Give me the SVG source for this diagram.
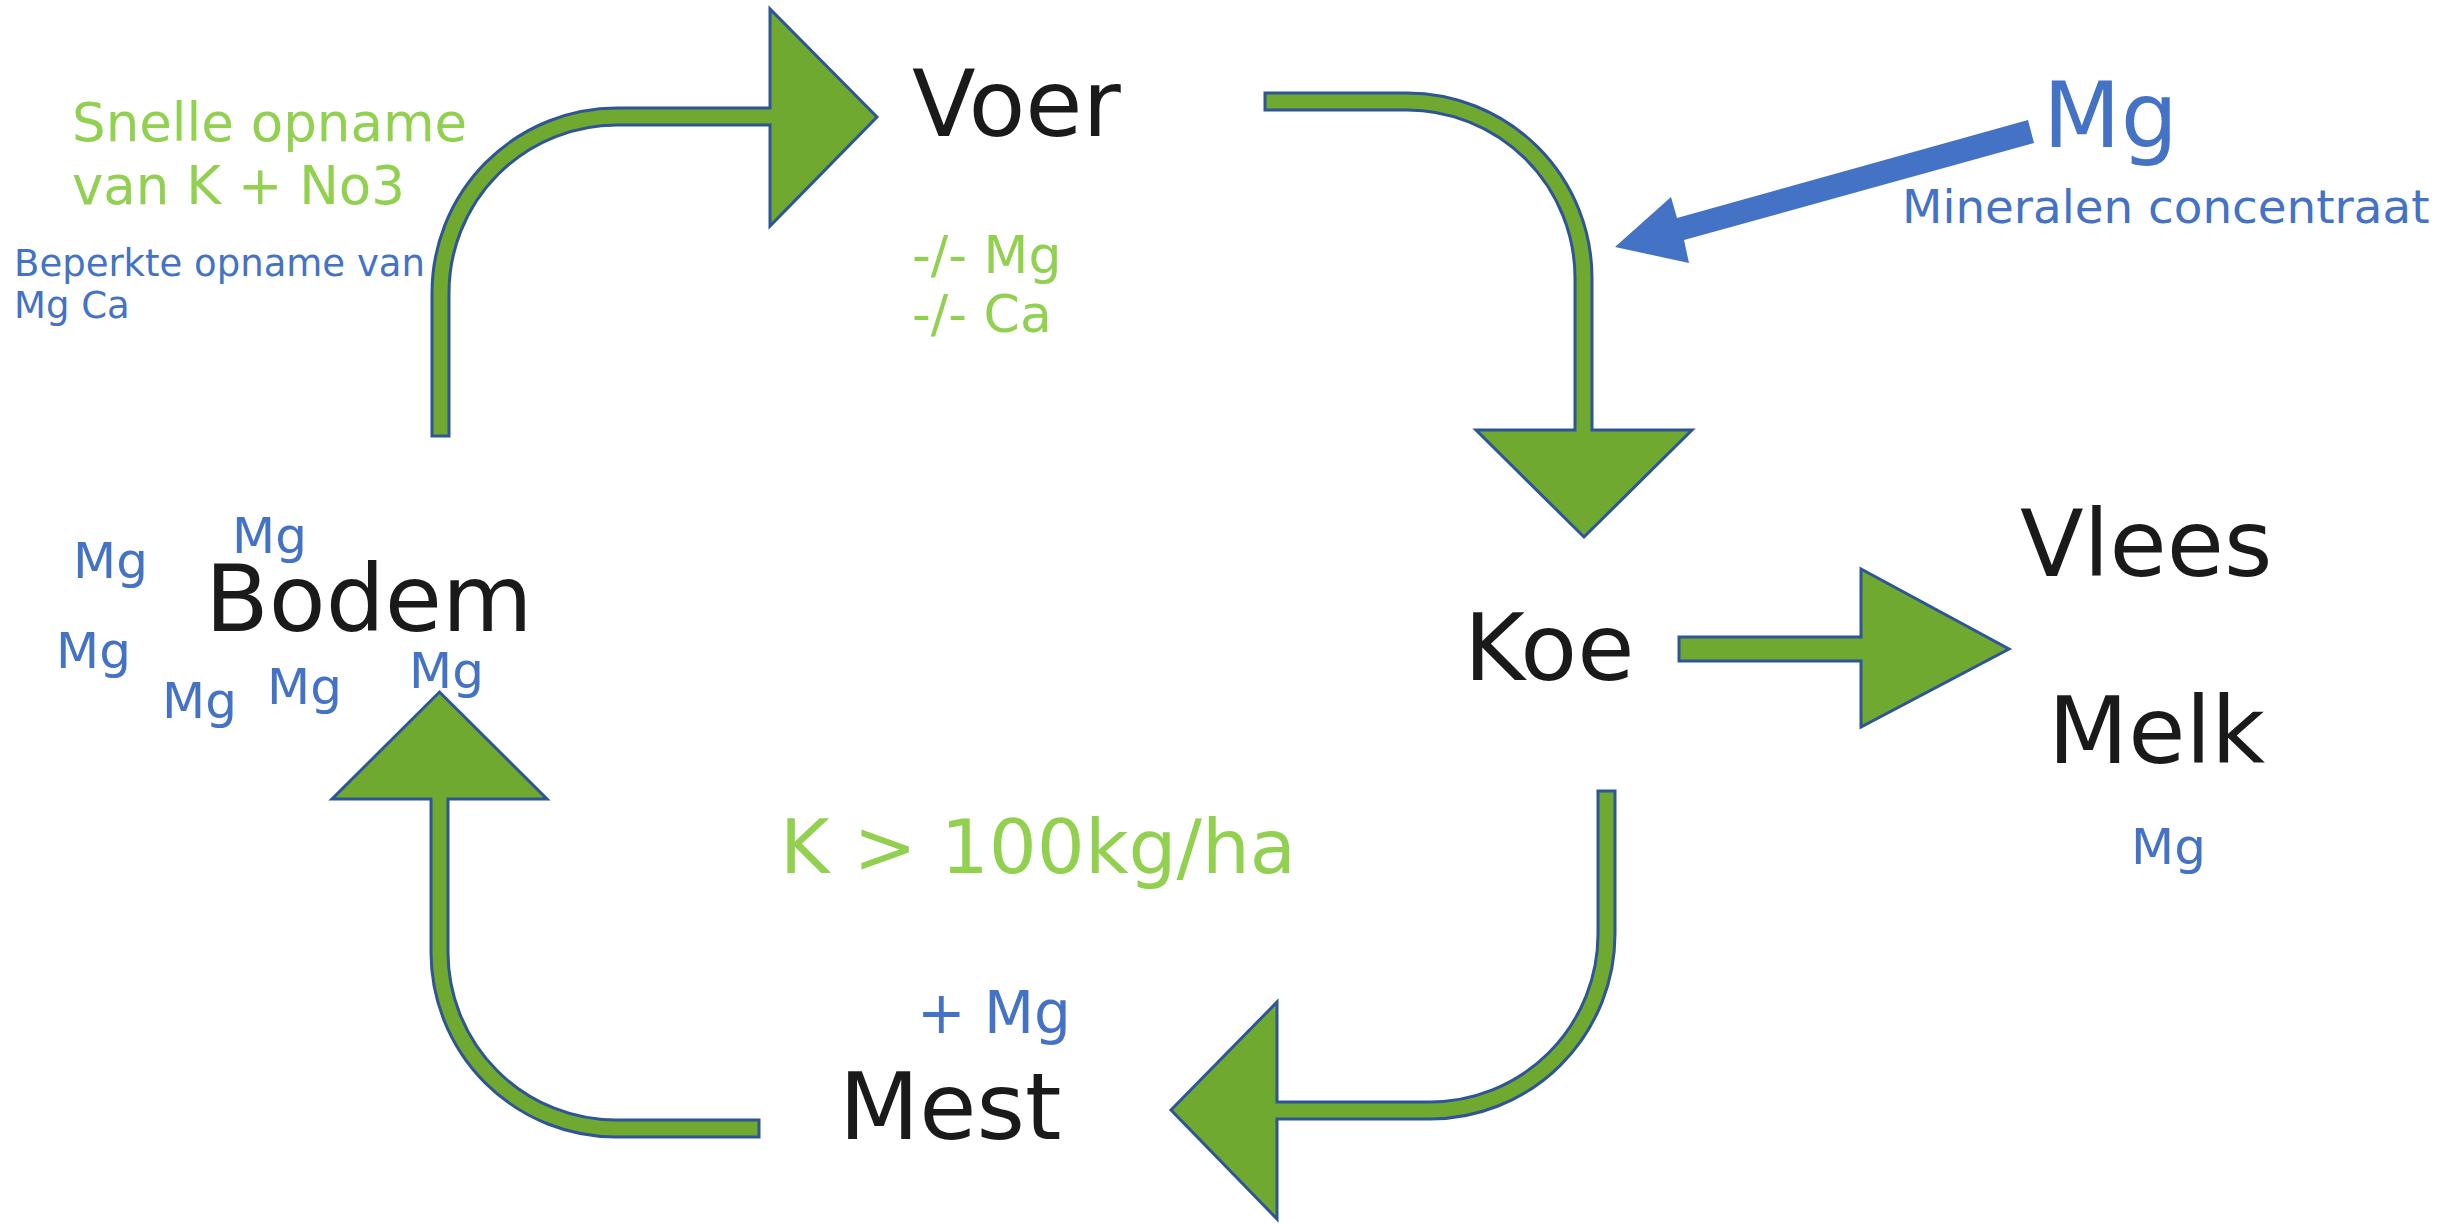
<svg xmlns="http://www.w3.org/2000/svg" width="2458" height="1225" viewBox="0 0 2458 1225">
<style>
.arrow{fill:#6FA92F;stroke:#2F5597;stroke-width:3;stroke-linejoin:miter}
.blue-arrow{fill:#4472C4;stroke:none}
text{font-family:"DejaVu Sans","Verdana",sans-serif}
.big{font-size:93px;fill:#1A1A1A}
.green{fill:#92D050}
.blue{fill:#4472C4}
.mg{font-size:50px;fill:#4472C4}
</style>
<rect width="2458" height="1225" fill="#FFFFFF"/>
<g id="connectors">
<path class="arrow" d="M 432 436 L 432 293 A 185 185 0 0 1 617 108 L 770 108 L 770 9 L 877 117 L 770 226 L 770 125 L 617 125 A 168 168 0 0 0 449 293 L 449 436 Z"/>
<path class="arrow" d="M 1265 93 L 1407 93 A 185 185 0 0 1 1592 278 L 1592 430 L 1692 430 L 1584 537 L 1476 430 L 1575 430 L 1575 278 A 168 168 0 0 0 1407 110 L 1265 110 Z"/>
<path class="arrow" d="M 1598 791 L 1615 791 L 1615 934 A 185 185 0 0 1 1430 1119 L 1277 1119 L 1277 1219 L 1171 1110 L 1277 1002 L 1277 1102 L 1430 1102 A 168 168 0 0 0 1598 934 Z"/>
<path class="arrow" d="M 759 1120 L 616 1120 A 168 168 0 0 1 448 952 L 448 799 L 547 799 L 439.5 692 L 332 799 L 431 799 L 431 952 A 185 185 0 0 0 616 1137 L 759 1137 Z"/>
<path class="arrow" d="M 1679 637 L 1861 637 L 1861 569 L 2009 649 L 1861 727 L 1861 661 L 1679 661 Z"/>
<polygon class="blue-arrow" points="2028,120 2034,143 1684,240 1689,263 1615,247 1671,197 1677,218"/>
</g>
<g id="node-voer">
<text class="big" x="912" y="136" font-size="95">Voer</text>
<text class="green" x="912" y="273" font-size="52">-/- Mg</text>
<text class="green" x="912" y="332" font-size="52">-/- Ca</text>
</g>
<g id="node-koe">
<text class="big" x="1464" y="680" font-size="95">Koe</text>
</g>
<g id="node-mest">
<text class="big" x="839" y="1139">Mest</text>
<text class="blue" x="917" y="1033" font-size="58">+ Mg</text>
<text class="green" x="780" y="873" font-size="75.5">K &gt; 100kg/ha</text>
</g>
<g id="node-bodem">
<text class="big" x="205" y="631">Bodem</text>
<text class="green" x="72" y="141" font-size="53">Snelle opname</text>
<text class="green" x="72" y="204" font-size="53">van K + No3</text>
<text class="blue" x="14" y="276" font-size="37">Beperkte opname van</text>
<text class="blue" x="14" y="318" font-size="37">Mg Ca</text>
<text class="mg" x="73" y="578">Mg</text>
<text class="mg" x="232" y="553">Mg</text>
<text class="mg" x="56" y="668">Mg</text>
<text class="mg" x="162" y="718">Mg</text>
<text class="mg" x="267" y="704">Mg</text>
<text class="mg" x="409" y="688">Mg</text>
</g>
<g id="node-mineralen">
<text class="blue" x="2043" y="147" font-size="90">Mg</text>
<text class="blue" x="1902" y="223" font-size="46.8">Mineralen concentraat</text>
</g>
<g id="node-vlees">
<text class="big" x="2020" y="576">Vlees</text>
</g>
<g id="node-melk">
<text class="big" x="2048" y="763">Melk</text>
<text class="mg" x="2131" y="864" font-size="48">Mg</text>
</g>
</svg>
